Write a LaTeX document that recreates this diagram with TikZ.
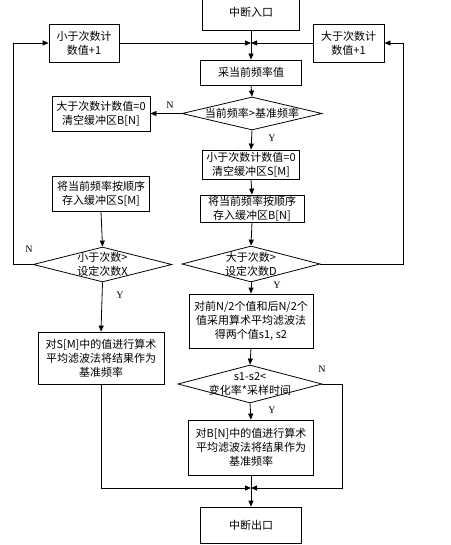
\documentclass[tikz,border=0pt]{standalone}
\usepackage{fontspec}
\setmainfont{Noto Sans CJK SC}
\newfontfamily\ynfont{Liberation Serif}
\usetikzlibrary{positioning, shapes.geometric, arrows.meta, calc}

\begin{document}
\begin{tikzpicture}[x=1pt, y=-1pt,
    txt/.style={align=center, font=\fontsize{11}{14}\selectfont},
    box/.style={rectangle, draw, line width=0.8pt, inner sep=0pt, txt},
    decision/.style={diamond, draw, line width=0.8pt, inner sep=0pt},
    flow/.style={line width=0.8pt, -{Triangle[length=6pt, width=5pt]}},
    yn/.style={font=\ynfont\fontsize{10}{10}\selectfont}]
  \useasboundingbox (0,0) rectangle (450,545);

  % Nodes
  \node[box, minimum width=97pt, minimum height=35pt] (start) at (251,12.5) {中断入口};
  \node[box, minimum width=70pt, minimum height=38pt] (lcnt) at (84,43) {小于次数计\\数值+1};
  \node[box, minimum width=71pt, minimum height=38pt] (rcnt) at (348.5,43) {大于次数计\\数值+1};
  \node[box, minimum width=101pt, minimum height=25pt] (sample) at (251,72.5) {采当前频率值};
  \node[decision, minimum width=140pt, minimum height=33pt,
        label={[txt]center:当前频率>基准频率}] (dcmp) at (252,113.5) {};
  \node[box, minimum width=98pt, minimum height=35pt] (clrB) at (101,113.5) {大于次数计数值=0\\清空缓冲区B[N]};
  \node[box, minimum width=97pt, minimum height=29pt] (clrS) at (251,164.5) {小于次数计数值=0\\清空缓冲区S[M]};
  \node[box, minimum width=104pt, minimum height=27pt] (storeB) at (252,208.5) {将当前频率按顺序\\存入缓冲区B[N]};
  \node[box, minimum width=97pt, minimum height=35pt] (storeS) at (101,193.5) {将当前频率按顺序\\存入缓冲区S[M]};
  \node[decision, minimum width=139pt, minimum height=35pt,
        label={[txt]center:小于次数>\\设定次数X}] (dX) at (102.5,264.5) {};
  \node[decision, minimum width=138pt, minimum height=36pt,
        label={[txt]center:大于次数>\\设定次数D}] (dD) at (251,264) {};
  \node[box, minimum width=126pt, minimum height=52pt] (avgS) at (101,358) {对S[M]中的值进行算术\\平均滤波法将结果作为\\基准频率};
  \node[box, minimum width=124pt, minimum height=54pt] (split) at (251,321) {对前N/2个值和后N/2个\\值采用算术平均滤波法\\得两个值s1, s2};
  \node[decision, minimum width=144pt, minimum height=38pt,
        label={[txt]center:s1-s2<\\变化率*采样时间}] (dS) at (250,384) {};
  \node[box, minimum width=125pt, minimum height=55pt] (avgB) at (251,447.5) {对B[N]中的值进行算术\\平均滤波法将结果作为\\基准频率};
  \node[box, minimum width=101pt, minimum height=36pt] (stop) at (251,525) {中断出口};
  \coordinate (jin) at (251,43);
  \coordinate (jout) at (251,488);

  % Labels
  \node[yn] (n1) at (170,105) {N};
  \node[yn] (y1) at (272,138) {Y};
  \node[yn] (n2) at (29,249) {N};
  \node[yn] (y2) at (120,295) {Y};
  \node[yn] (y3) at (277,285) {Y};
  \node[yn] (n3) at (322,369) {N};
  \node[yn] (y4) at (272,410) {Y};

  % Arrows
  \foreach \a/\b in {start/sample, sample/dcmp, dcmp/clrS, clrS/storeB, storeB/dD,
                     dD/split, split/dS, dS/avgB, avgB/stop, storeS/dX, dX/avgS}
  \draw[flow] (\a.south) -- (\b.north);
  \draw[flow] (lcnt.east) -- (jin);
  \draw[flow] (rcnt.west) -- (jin);
  \draw[flow] (dcmp.west) -- (clrB.east);
  \draw[flow] (dD.east) -- (403,264) -- (403,43) -- (rcnt.east);
  \draw[flow] (dX.west) -- (13,264.5) -- (13,43) -- (lcnt.west);
  \draw[flow] (dS.east) -- (342,384) -- (342,488) -- (jout);
  \draw[flow] (avgS.south) -- (101,488) -- (jout);
\end{tikzpicture}
\end{document}
